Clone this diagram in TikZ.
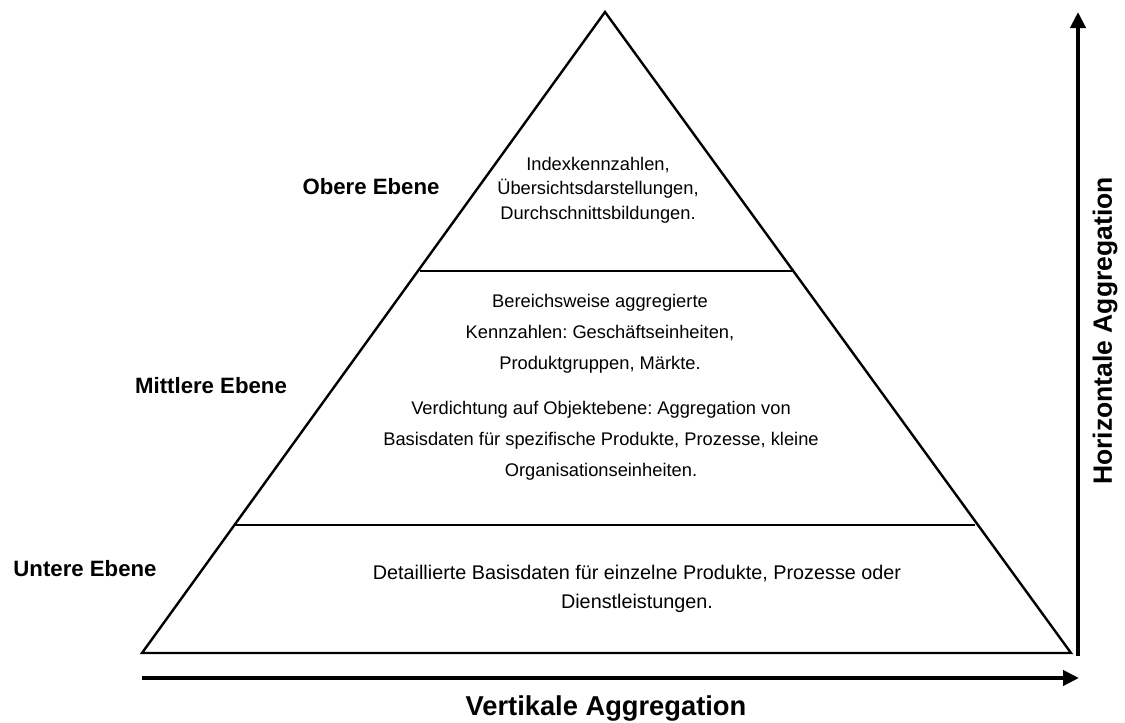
\documentclass[tikz,border=0pt]{standalone}
\usepackage{fontspec}
\setmainfont{Liberation Sans}
\usetikzlibrary{arrows.meta}
\frenchspacing
\begin{document}
\begin{tikzpicture}[x=1pt,y=-1pt,
  edge/.style={line width=2.4pt,line join=miter},
  axis/.style={line width=4.6pt,-{Triangle[length=16pt,width=15pt]}},
  level/.style={font=\bfseries\fontsize{22.2}{26}\selectfont,inner sep=0pt},
  body/.style={align=center,inner sep=0pt,font=\fontsize{18.3}{#1}\selectfont},
  body/.default=31,
  axislabel/.style={font=\bfseries\fontsize{26.5}{30}\selectfont,inner sep=0pt}]
\useasboundingbox (0,0) rectangle (1125,723);

% pyramid corners and level boundaries
\coordinate (apex) at (605,12);
\coordinate (bl) at (142,653);
\coordinate (br) at (1071,653);
\coordinate (t1l) at (420,271);
\coordinate (t1r) at (792,271);
\coordinate (t2l) at (235,525);
\coordinate (t2r) at (975,525);

\draw[edge] (bl) -- (apex) -- (br) -- cycle;
\draw[edge] (t1l) -- (t1r);
\draw[edge] (t2l) -- (t2r);

% aggregation axes
\coordinate (vstart) at (1078,656);
\coordinate (vend) at (1078,12);
\coordinate (hstart) at (142,678);
\coordinate (hend) at (1079,678);
\draw[axis] (vstart) -- (vend);
\draw[axis] (hstart) -- (hend);

\node[axislabel,rotate=90] (hlab) at (1105,331) {Horizontale Aggregation};
\node[axislabel,font=\bfseries\fontsize{27.3}{30}\selectfont] (vlab) at (606,708) {Vertikale Aggregation};

% level names
\node[level] (obere) at (371,187) {Obere Ebene};
\node[level] (mittlere) at (211,386) {Mittlere Ebene};
\node[level] (untere) at (85,569) {Untere Ebene};

% level contents
\node[body=24.5] (ctop) at (598,190) {Indexkennzahlen,\\Übersichtsdarstellungen,\\Durchschnittsbildungen.};
\node[body] (cmid1) at (600,334) {Bereichsweise aggregierte\\Kennzahlen: Geschäftseinheiten,\\Produktgruppen, Märkte.};
\node[body] (cmid2) at (601,441) {Verdichtung auf Objektebene: Aggregation von\\Basisdaten für spezifische Produkte, Prozesse, kleine\\Organisationseinheiten.};
\node[body=29,font=\fontsize{19.8}{29}\selectfont] (cbot) at (637,589) {Detaillierte Basisdaten für einzelne Produkte, Prozesse oder\\Dienstleistungen.};
\end{tikzpicture}
\end{document}
